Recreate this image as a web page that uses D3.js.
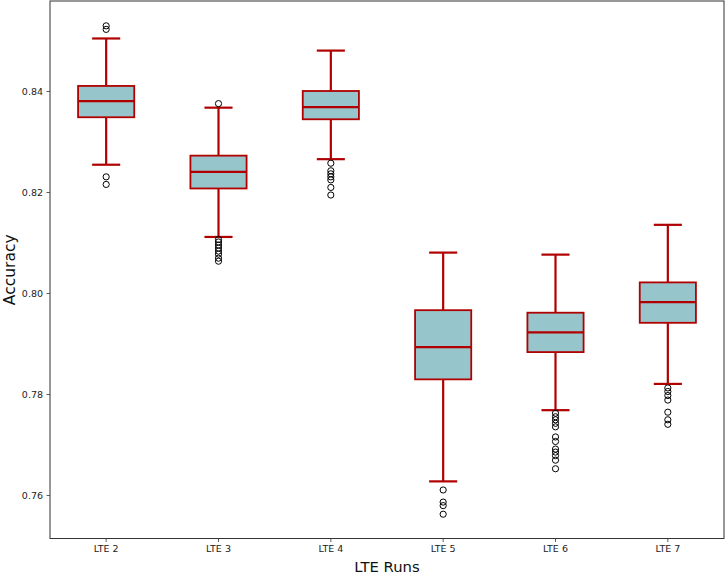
<!DOCTYPE html>
<html>
<head>
<meta charset="utf-8">
<script src="https://cdn.jsdelivr.net/npm/d3@7"></script>
<style>
  html, body { margin: 0; padding: 0; background: #fff; }
  svg { display: block; font-family: "DejaVu Sans", sans-serif; }
</style>
</head>
<body>
<svg id="chart" width="726" height="574"></svg>
<script>
// ---- data ----
const categories = ["LTE 2", "LTE 3", "LTE 4", "LTE 5", "LTE 6", "LTE 7"];
const whiskerLow  = [0.8254, 0.8111, 0.8265, 0.7627, 0.7768, 0.7820];
const q1          = [0.8348, 0.8207, 0.8344, 0.7829, 0.7883, 0.7941];
const medians     = [0.8380, 0.8240, 0.8368, 0.7893, 0.7922, 0.7982];
const q3          = [0.8410, 0.8272, 0.8400, 0.7966, 0.7961, 0.8021];
const whiskerHigh = [0.8504, 0.8367, 0.8480, 0.8080, 0.8076, 0.8135];
const outliers = [
  [0.8529, 0.8522, 0.8230, 0.8215],
  [0.8375, 0.8106, 0.8101, 0.8095, 0.8089, 0.8083, 0.8077, 0.8069, 0.8063],
  [0.8257, 0.8242, 0.8236, 0.8230, 0.8224, 0.8209, 0.8194],
  [0.7610, 0.7586, 0.7579, 0.7562],
  [0.7762, 0.7755, 0.7749, 0.7742, 0.7735, 0.7715, 0.7706, 0.7691, 0.7685, 0.7678, 0.7669, 0.7652],
  [0.7812, 0.7805, 0.7797, 0.7788, 0.7764, 0.7749, 0.7740]
];
const yTicks = [0.76, 0.78, 0.80, 0.82, 0.84];
const yLabel = "Accuracy";
const xLabel = "LTE Runs";

// ---- layout ----
const svg = d3.select("#chart");
const mLeft = 50, mRight = 724, mTop = 1, mBottom = 538.5;
const red = "#b00000", fill = "#96c5cc";

const x = d3.scaleBand().domain(categories).range([mLeft, mRight]).paddingInner(0).paddingOuter(0);
const y = d3.scaleLinear().domain([0.75139, 0.85782]).range([mBottom, mTop]);
const bw = x.bandwidth();
const boxW = bw * 0.5, capW = boxW * 0.5;

const rows = categories.map((c, i) => ({
  c, lo: whiskerLow[i], q1: q1[i], med: medians[i], q3: q3[i], hi: whiskerHigh[i], out: outliers[i]
}));

const g = svg.append("g");
const groups = g.selectAll("g.box").data(rows).enter().append("g")
  .attr("class", "box")
  .attr("transform", d => `translate(${x(d.c) + bw / 2},0)`);

// whiskers
groups.append("line").attr("x1", 0).attr("x2", 0)
  .attr("y1", d => y(d.q3)).attr("y2", d => y(d.hi))
  .attr("stroke", red).attr("stroke-width", 2.2);
groups.append("line").attr("x1", 0).attr("x2", 0)
  .attr("y1", d => y(d.q1)).attr("y2", d => y(d.lo))
  .attr("stroke", red).attr("stroke-width", 2.2);
// caps
groups.append("line").attr("x1", -capW / 2).attr("x2", capW / 2)
  .attr("y1", d => y(d.hi)).attr("y2", d => y(d.hi))
  .attr("stroke", red).attr("stroke-width", 2.2);
groups.append("line").attr("x1", -capW / 2).attr("x2", capW / 2)
  .attr("y1", d => y(d.lo)).attr("y2", d => y(d.lo))
  .attr("stroke", red).attr("stroke-width", 2.2);
// box
groups.append("rect").attr("x", -boxW / 2).attr("width", boxW)
  .attr("y", d => y(d.q3)).attr("height", d => y(d.q1) - y(d.q3))
  .attr("fill", fill).attr("stroke", red).attr("stroke-width", 1.8);
// median
groups.append("line").attr("x1", -boxW / 2).attr("x2", boxW / 2)
  .attr("y1", d => y(d.med)).attr("y2", d => y(d.med))
  .attr("stroke", red).attr("stroke-width", 2.2);
// outliers
groups.selectAll("circle").data(d => d.out).enter().append("circle")
  .attr("cx", 0).attr("cy", v => y(v)).attr("r", 3.1)
  .attr("fill", "none").attr("stroke", "#000").attr("stroke-width", 1);

// axes
const yAxis = d3.axisLeft(y).tickValues(yTicks).tickFormat(d3.format(".2f")).tickSize(3.5).tickPadding(3.5);
const xAxis = d3.axisBottom(x).tickSize(3.5).tickPadding(3.5);

const ya = svg.append("g").attr("transform", `translate(${mLeft},0)`).call(yAxis);
const xa = svg.append("g").attr("transform", `translate(0,${mBottom})`).call(xAxis);
[ya, xa].forEach(a => {
  a.select(".domain").remove();
  a.selectAll(".tick line").attr("stroke", "#333").attr("stroke-width", 0.8);
  a.selectAll(".tick text").attr("fill", "#222").style("font-size", "9.5px").style("font-family", "DejaVu Sans, sans-serif");
});

// frame
svg.append("rect").attr("x", mLeft).attr("y", mTop).attr("width", mRight - mLeft).attr("height", mBottom - mTop)
  .attr("fill", "none").attr("stroke", "#333").attr("stroke-width", 1);

// labels
svg.append("text").attr("x", (mLeft + mRight) / 2).attr("y", 572).attr("text-anchor", "middle")
  .style("font-size", "14.8px").attr("fill", "#111").text(xLabel);
svg.append("text").attr("transform", `translate(14.5,${(mTop + mBottom) / 2}) rotate(-90)`)
  .attr("text-anchor", "middle").style("font-size", "15.5px").attr("fill", "#111").text(yLabel);
</script>
</body>
</html>
